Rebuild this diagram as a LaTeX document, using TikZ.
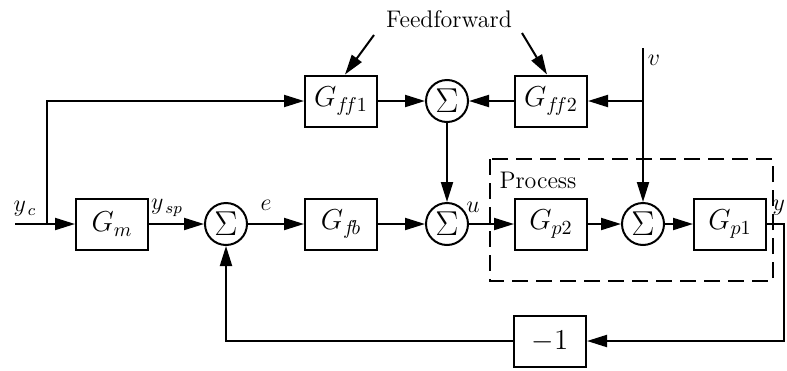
\documentclass[tikz,border=0pt]{standalone}
\usetikzlibrary{arrows.meta,calc}
\begin{document}
\begin{tikzpicture}[x=0.5pt,y=-0.5pt,
  line width=1pt,
  every node/.style={font=\fontsize{12}{14}\selectfont},
  blk/.style={draw,line width=1pt,minimum width=36pt,minimum height=25.5pt,inner sep=0pt,font=\fontsize{14}{16}\selectfont},
  sumn/.style={draw,circle,line width=1pt,minimum size=21pt,inner sep=0pt,font=\fontsize{16}{18}\selectfont},
  arr/.style={-{Triangle[length=10pt,width=6pt]}},
  lbl/.style={inner sep=0pt}]
\useasboundingbox (0,0) rectangle (787,370);
% dashed process box
\draw[dash pattern=on 8pt off 4pt,line width=1pt] (490,159) rectangle (773,281);
\node[lbl] (proc) at (538,180) {Process};
% blocks
\node[blk] (Gm) at (112,224) {$G_m$};
\node[sumn] (s1) at (226,224) {$\Sigma$};
\node[blk] (Gfb) at (341,224) {$G_{f\!b}$};
\node[sumn] (s2) at (447,224) {$\Sigma$};
\node[blk] (Gp2) at (551,224) {$G_{p2}$};
\node[sumn] (s3) at (643,224) {$\Sigma$};
\node[blk] (Gp1) at (730,224) {$G_{p1}$};
\node[blk] (Gff1) at (341,101) {$G_{f\!f1}$};
\node[sumn] (s0) at (447,101) {$\Sigma$};
\node[blk] (Gff2) at (551,101) {$G_{f\!f2}$};
\node[blk] (neg) at (550,341) {$-1$};
\node[lbl] (ff) at (449,19) {Feedforward};
% coordinates
\coordinate (in) at (15,224);
\coordinate (br) at (47,224);
\coordinate (vtop) at (643,48);
\coordinate (vbr) at (643,101);
\coordinate (oc) at (784,224);
\coordinate (fbr) at (784,341);
\coordinate (fbl) at (226,341);
\coordinate (fa1) at (374,35);
\coordinate (fa2) at (522,33);
% main path
\draw[arr] (in) -- (Gm.west);
\draw[arr] (br) |- (Gff1.west);
\draw[arr] (Gm) -- (s1);
\draw[arr] (s1) -- (Gfb);
\draw[arr] (Gfb) -- (s2);
\draw[arr] (s2) -- (Gp2);
\draw[arr] (Gp2) -- (s3);
\draw[arr] (s3) -- (Gp1);
\draw[arr] (Gp1.east) -- (oc) -- (fbr) -- (neg.east);
\draw[arr] (neg.west) -- (fbl) -- (s1.south);
% feedforward
\draw[arr] (Gff1) -- (s0);
\draw[arr] (Gff2) -- (s0);
\draw[arr] (vbr) -- (Gff2.east);
\draw[arr] (vtop) -- (s3.north);
\draw[arr] (s0) -- (s2);
\draw[arr] (fa1) -- ([xshift=2pt]Gff1.north);
\draw[arr] (fa2) -- ([xshift=-2pt]Gff2.north);
% labels
\node[lbl] (lyc) at (25,209) {$y_{\,c}$};
\node[lbl] (lysp) at (167,208) {$y_{\,sp}$};
\node[lbl] (le) at (266,205) {$e$};
\node[lbl] (lu) at (473,207) {$u$};
\node[lbl] (lv) at (654,60) {$v$};
\node[lbl,anchor=east] (ly) at (786,208) {$y$};
\end{tikzpicture}
\end{document}
